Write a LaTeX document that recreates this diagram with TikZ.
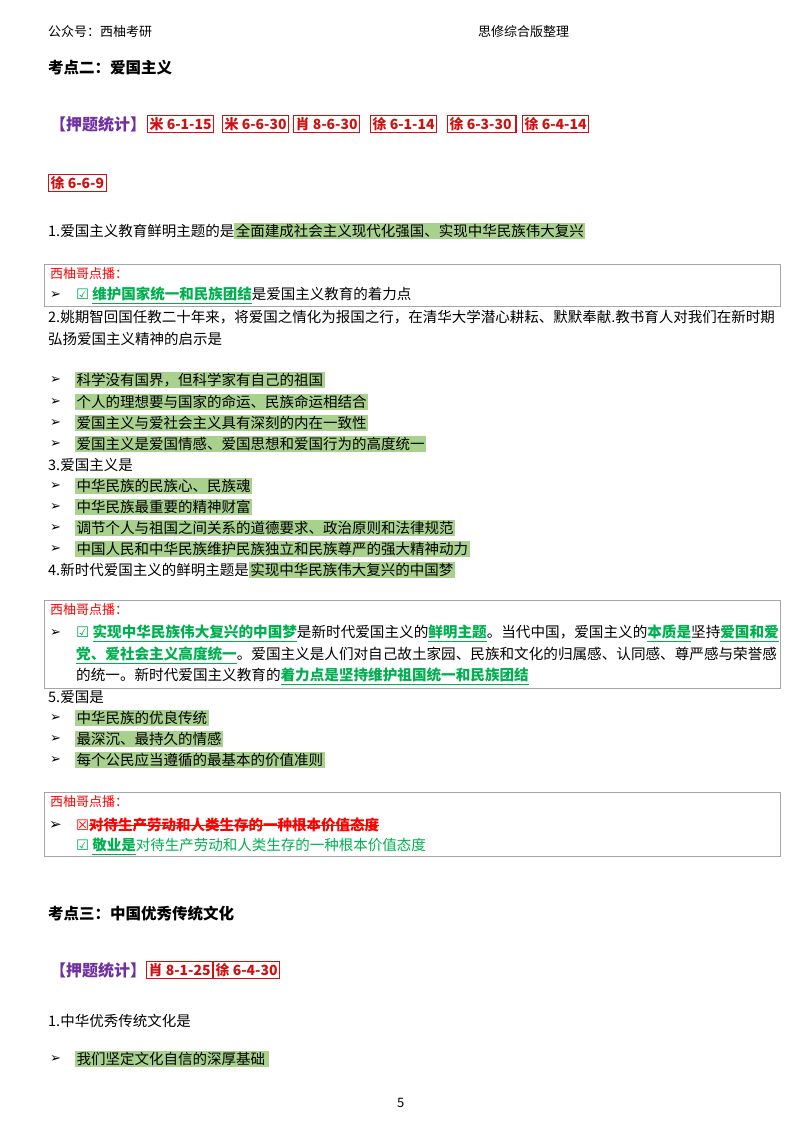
\documentclass[tikz,border=0pt]{standalone}
\usepackage{fontspec}
\setmainfont{Noto Sans CJK SC}
\newfontfamily\dv{DejaVu Sans}
\definecolor{gr}{HTML}{00B050}
\definecolor{hlc}{HTML}{A9D18E}
\definecolor{rd}{HTML}{FF0000}
\definecolor{bx}{HTML}{D01010}
\definecolor{pu}{HTML}{7030A0}
\newcommand{\myul}[1]{\setbox0\hbox{#1}\rlap{\rule[-0.28em]{\wd0}{0.7pt}}\box0}
\newcommand{\mysout}[1]{\setbox0\hbox{#1}\rlap{\rule[0.32em]{\wd0}{0.7pt}}\box0}
\newcommand{\myg}[1]{\textcolor{gr}{\myul{\bfseries #1}}}
\newcommand{\myhl}[1]{{\setlength{\fboxsep}{1.5pt}\colorbox{hlc}{#1}}}
\newcommand{\myck}{{\dv\textcolor{gr}{☑}}}
\newcommand{\myar}{{\dv\bfseries ➢}}
\begin{document}
\begin{tikzpicture}[x=1pt,y=-1pt,
  t/.style={anchor=west,inner sep=0pt,font=\fontsize{14.5}{16}\selectfont},
  hd/.style={t,font=\fontsize{13}{15}\selectfont},
  tag/.style={anchor=west,draw=bx,line width=1.2pt,inner sep=2pt,text=bx,font=\fontsize{14}{16}\selectfont\bfseries},
  cb/.style={draw=gray!70,line width=0.8pt},
  bul/.style={anchor=west,inner sep=0pt,font=\fontsize{13}{14}\selectfont}]
\useasboundingbox (0,0) rectangle (800,1132);
\fill[white] (0,0) rectangle (800,1132);
\node[hd] (h1) at (48,32) {公众号：西柚考研};
\node[hd] (h2) at (478,32) {思修综合版整理};
\node[t,font=\fontsize{15.5}{17}\selectfont\bfseries] (k2) at (48,68) {考点二：爱国主义};
\node[t,text=pu,font=\fontsize{16}{18}\selectfont\bfseries] (ys) at (50,124) {【押题统计】};
\node[tag] (a1) at (147,124) {米 6-1-15};
\node[tag] (a2) at (222,124) {米 6-6-30};
\node[tag] (a3) at (293,124) {肖 8-6-30};
\node[tag] (a4) at (370,124) {徐 6-1-14};
\node[tag] (a5) at (447,124) {徐 6-3-30\,};
\node[tag] (a6) at (522,124) {徐 6-4-14};
\node[tag] (a7) at (48,183) {徐 6-6-9};
\node[t] (q1) at (48,231) {1.爱国主义教育鲜明主题的是\myhl{全面建成社会主义现代化强国、实现中华民族伟大复兴}};
% box 1
\draw[cb] (44,264) rectangle (780,306);
\node[t,text=rd,font=\fontsize{13}{14}\selectfont] (b1t) at (50,274) {西柚哥点播：};
\node[bul] (b1a) at (50,295) {\myar};
\node[t] (b1l) at (76,295) {\myck\ \myg{维护国家统一和民族团结}是爱国主义教育的着力点};
\node[t] (q2) at (48,317) {2.姚期智回国任教二十年来，将爱国之情化为报国之行，在清华大学潜心耕耘、默默奉献.教书育人对我们在新时期};
\node[t] (q2b) at (48,339) {弘扬爱国主义精神的启示是};
\foreach \y/\s [count=\i] in {380/科学没有国界，但科学家有自己的祖国,402/个人的理想要与国家的命运、民族命运相结合,423/爱国主义与爱社会主义具有深刻的内在一致性,444/爱国主义是爱国情感、爱国思想和爱国行为的高度统一}{
  \node[bul] (o2a\i) at (50,\y) {\myar};
  \node[t] (o2\i) at (75,\y) {\myhl{\s}};
}
\node[t] (q3) at (48,465) {3.爱国主义是};
\foreach \y/\s [count=\i] in {486/中华民族的民族心、民族魂,507/中华民族最重要的精神财富,528/调节个人与祖国之间关系的道德要求、政治原则和法律规范,549/中国人民和中华民族维护民族独立和民族尊严的强大精神动力}{
  \node[bul] (o3a\i) at (50,\y) {\myar};
  \node[t] (o3\i) at (75,\y) {\myhl{\s}};
}
\node[t] (q4) at (48,570) {4.新时代爱国主义的鲜明主题是\myhl{实现中华民族伟大复兴的中国梦}};
% box 2
\draw[cb] (44,600) rectangle (780,688);
\node[t,text=rd,font=\fontsize{13}{14}\selectfont] (b2t) at (50,610) {西柚哥点播：};
\node[bul] (b2a) at (50,633) {\myar};
\node[t,font=\fontsize{14.6}{16}\selectfont] (b2l1) at (76,633) {\myck\ \myg{实现中华民族伟大复兴的中国梦}是新时代爱国主义的\myg{鲜明主题}。当代中国，爱国主义的\myg{本质是}坚持\myg{爱国和爱}};
\node[t,font=\fontsize{14.6}{16}\selectfont] (b2l2) at (76,655) {\myg{党、爱社会主义高度统一}。爱国主义是人们对自己故土家园、民族和文化的归属感、认同感、尊严感与荣誉感};
\node[t,font=\fontsize{14.6}{16}\selectfont] (b2l3) at (76,676) {的统一。新时代爱国主义教育的\myg{着力点是坚持维护祖国统一和民族团结}};
\node[t] (q5) at (48,697) {5.爱国是};
\foreach \y/\s [count=\i] in {718/中华民族的优良传统,739/最深沉、最持久的情感,760/每个公民应当遵循的最基本的价值准则}{
  \node[bul] (o5a\i) at (50,\y) {\myar};
  \node[t] (o5\i) at (75,\y) {\myhl{\s}};
}
% box 3
\draw[cb] (44,792) rectangle (780,856);
\node[t,text=rd,font=\fontsize{13}{14}\selectfont] (b3t) at (50,802) {西柚哥点播：};
\node[bul,font=\fontsize{15}{15}\selectfont] (b3a) at (49,825) {\myar};
\node[t,text=rd] (b3l1) at (76,825) {{\dv ☒}\mysout{\bfseries 对待生产劳动和人类生存的一种根本价值态度}};
\node[t,text=gr] (b3l2) at (76,846) {\myck\ \myg{敬业是}对待生产劳动和人类生存的一种根本价值态度};
\node[t,font=\fontsize{15.5}{17}\selectfont\bfseries] (k3) at (48,914) {考点三：中国优秀传统文化};
\node[t,text=pu,font=\fontsize{16}{18}\selectfont\bfseries] (ys2) at (50,970) {【押题统计】};
\node[tag] (c1) at (146,970) {肖 8-1-25};
\node[tag] (c2) at (213,970) {徐 6-4-30};
\node[t] (q6) at (48,1021) {1.中华优秀传统文化是};
\node[bul] (o6a) at (50,1059) {\myar};
\node[t] (o6) at (75,1059) {\myhl{我们坚定文化自信的深厚基础\,}};
\node[hd] (pg) at (397,1103) {5};
\end{tikzpicture}
\end{document}
